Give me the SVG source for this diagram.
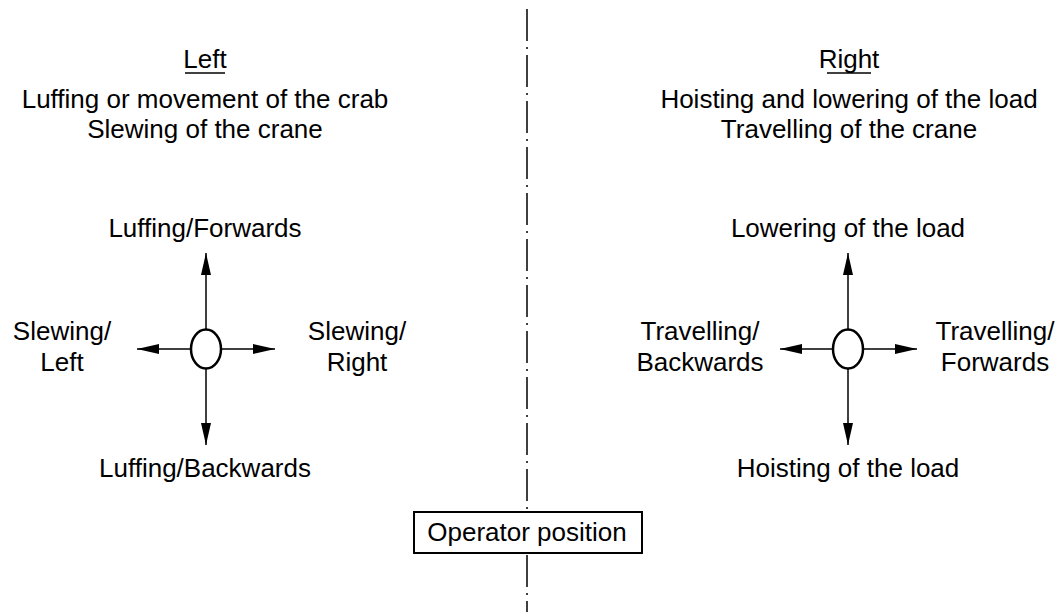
<svg xmlns="http://www.w3.org/2000/svg" width="1061" height="612" viewBox="0 0 1061 612">
<defs>
<style>
text{font-family:"Liberation Sans",Arial,sans-serif;font-size:26px;fill:#000;text-anchor:middle}
.ln{stroke:#000;stroke-width:1.5;fill:none}
.el{stroke:#000;stroke-width:2.5;fill:#fff}
.axis{stroke:#000;stroke-width:1.5;stroke-dasharray:32 6 2 6}
.ul{stroke:#000;stroke-width:1.5}
</style>
<marker id="ah" markerUnits="userSpaceOnUse" markerWidth="22" markerHeight="12" refX="22" refY="6" orient="auto">
<path d="M0,1 L22,6 L0,11 Z" fill="#000"/>
</marker>
</defs>
<rect width="1061" height="612" fill="#fff"/>
<g id="centerline">
<line class="axis" x1="527" y1="9" x2="527" y2="515"/>
<line class="axis" x1="527" y1="555" x2="527" y2="612"/>
</g>
<g id="left-header">
<text x="205" y="68">Left</text>
<line class="ul" x1="185" y1="73" x2="225" y2="73"/>
<text x="205" y="108">Luffing or movement of the crab</text>
<text x="205" y="138">Slewing of the crane</text>
</g>
<g id="right-header">
<text x="849" y="68">Right</text>
<line class="ul" x1="827" y1="73" x2="871" y2="73"/>
<text x="849" y="108">Hoisting and lowering of the load</text>
<text x="849" y="138">Travelling of the crane</text>
</g>
<g id="connectors">
<line class="ln" x1="206" y1="329" x2="206" y2="253" marker-end="url(#ah)"/>
<line class="ln" x1="206" y1="369" x2="206" y2="445" marker-end="url(#ah)"/>
<line class="ln" x1="190" y1="349" x2="137" y2="349" marker-end="url(#ah)"/>
<line class="ln" x1="222" y1="349" x2="275" y2="349" marker-end="url(#ah)"/>
<line class="ln" x1="848" y1="329" x2="848" y2="253" marker-end="url(#ah)"/>
<line class="ln" x1="848" y1="369" x2="848" y2="445" marker-end="url(#ah)"/>
<line class="ln" x1="832" y1="349" x2="780" y2="349" marker-end="url(#ah)"/>
<line class="ln" x1="864" y1="349" x2="917" y2="349" marker-end="url(#ah)"/>
</g>
<g id="left-control">
<ellipse class="el" cx="206" cy="349" rx="15" ry="19.5"/>
</g>
<g id="right-control">
<ellipse class="el" cx="848" cy="349" rx="15" ry="19.5"/>
</g>
<g id="left-labels">
<text x="205" y="237">Luffing/Forwards</text>
<text x="62" y="340">Slewing/</text>
<text x="62" y="371">Left</text>
<text x="357" y="340">Slewing/</text>
<text x="357" y="371">Right</text>
<text x="205" y="477">Luffing/Backwards</text>
</g>
<g id="right-labels">
<text x="848" y="237">Lowering of the load</text>
<text x="700" y="340">Travelling/</text>
<text x="700" y="371">Backwards</text>
<text x="995" y="340">Travelling/</text>
<text x="995" y="371">Forwards</text>
<text x="848" y="477">Hoisting of the load</text>
</g>
<g id="operator">
<rect x="414" y="512" width="228" height="41" fill="#fff" stroke="#000" stroke-width="2"/>
<text x="527" y="541">Operator position</text>
</g>
</svg>
